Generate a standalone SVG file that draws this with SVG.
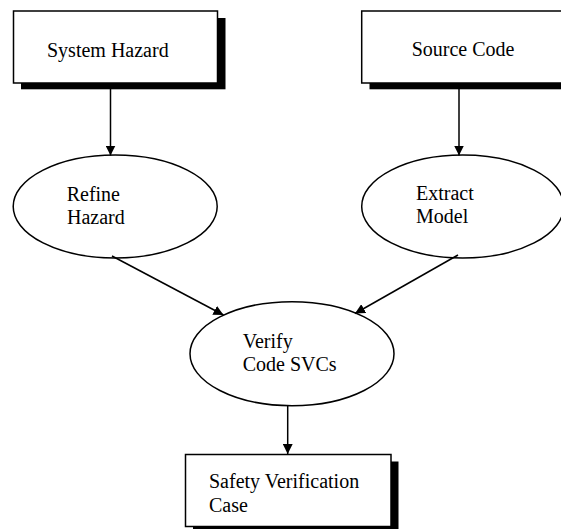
<svg xmlns="http://www.w3.org/2000/svg" width="561" height="529" viewBox="0 0 561 529">
<defs>
<style>
.box{fill:#fff;stroke:#000;stroke-width:1.5}
.shadow{fill:#000}
.ell{fill:#fff;stroke:#000;stroke-width:1.5}
.lbl{font-family:"Liberation Serif","Times New Roman",serif;font-size:20px;fill:#000}
.conn{stroke:#000;stroke-width:1.5;fill:none}
</style>
<marker id="arr" markerUnits="userSpaceOnUse" markerWidth="10" markerHeight="10" refX="10" refY="5" orient="auto">
<path d="M0,0 L10,5 L0,10 z" fill="#000"/>
</marker>
</defs>
<rect x="0" y="0" width="561" height="529" fill="#fff"/>
<g id="system-hazard">
<rect class="shadow" x="21" y="18" width="204.5" height="71.3"/>
<rect class="box" x="13.5" y="11" width="204" height="72"/>
<text class="lbl" x="47" y="56.5">System Hazard</text>
</g>
<g id="source-code">
<rect class="shadow" x="369.5" y="18" width="204" height="71.3"/>
<rect class="box" x="361.7" y="11" width="204" height="72"/>
<text class="lbl" x="411.7" y="55.5">Source Code</text>
</g>
<g id="refine-hazard">
<ellipse class="ell" cx="115.2" cy="206.5" rx="102" ry="51.5"/>
<text class="lbl" x="66.7" y="200.5">Refine</text>
<text class="lbl" x="67" y="224">Hazard</text>
</g>
<g id="extract-model">
<ellipse class="ell" cx="462.7" cy="206.5" rx="101" ry="51.5"/>
<text class="lbl" x="416" y="200">Extract</text>
<text class="lbl" x="416" y="222.7">Model</text>
</g>
<g id="verify-code-svcs">
<ellipse class="ell" cx="292" cy="353.7" rx="102" ry="52"/>
<text class="lbl" x="242.7" y="348">Verify</text>
<text class="lbl" x="242.7" y="370.7">Code SVCs</text>
</g>
<g id="safety-verification-case">
<rect class="shadow" x="193" y="461.5" width="205.5" height="72"/>
<rect class="box" x="185.5" y="454.5" width="205.5" height="72"/>
<text class="lbl" x="209" y="488.3">Safety Verification</text>
<text class="lbl" x="209" y="511.7">Case</text>
</g>
<g id="connectors">
<line class="conn" x1="110.5" y1="89" x2="110.5" y2="155.5" marker-end="url(#arr)"/>
<line class="conn" x1="459" y1="89" x2="459" y2="155.5" marker-end="url(#arr)"/>
<line class="conn" x1="112" y1="256" x2="223.5" y2="315" marker-end="url(#arr)"/>
<line class="conn" x1="458" y1="255" x2="355" y2="313.5" marker-end="url(#arr)"/>
<line class="conn" x1="287.7" y1="406" x2="287.7" y2="454" marker-end="url(#arr)"/>
</g>
</svg>
